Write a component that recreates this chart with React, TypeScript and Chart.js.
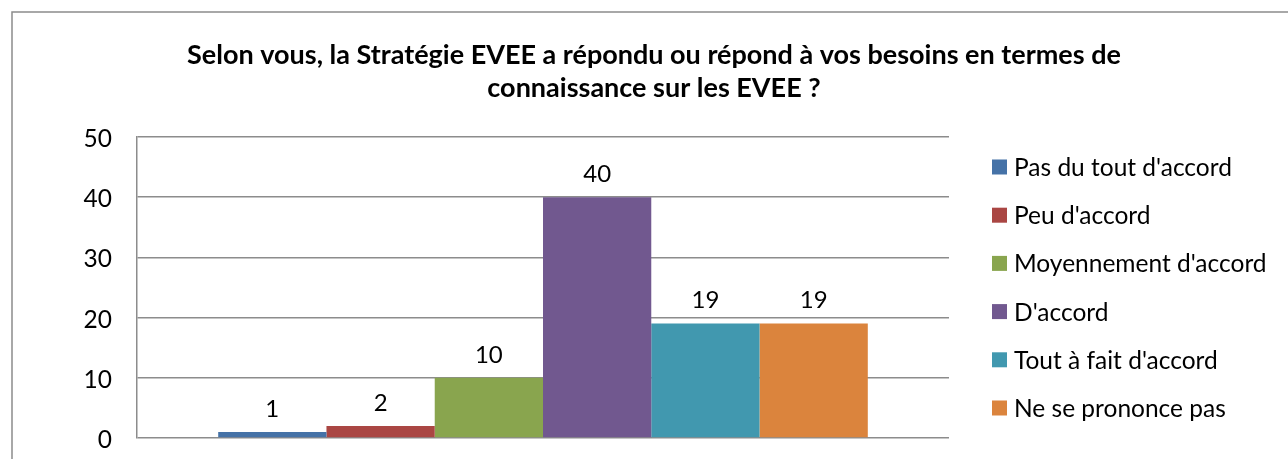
import React, { useEffect, useRef } from "react";
import { Chart, registerables } from "chart.js";

Chart.register(...registerables);

const titleLines = [
  "Selon vous, la Stratégie EVEE a répondu ou répond à vos besoins en termes de",
  "connaissance sur les EVEE ?",
];
const categories = [""];
const seriesNames = [
  "Pas du tout d'accord",
  "Peu d'accord",
  "Moyennement d'accord",
  "D'accord",
  "Tout à fait d'accord",
  "Ne se prononce pas",
];
const seriesValues = [1, 2, 10, 40, 19, 19];
const seriesColors = ["#4572A7", "#AA4643", "#89A54E", "#71588F", "#4198AF", "#DB843D"];
const yTicks = { min: 0, max: 50, step: 10 };

const FONT = "Lato, 'Open Sans', sans-serif";

const framePlugin = {
  id: "frame",
  beforeDraw(chart: any) {
    const ctx = chart.ctx;
    ctx.save();
    ctx.fillStyle = "#ffffff";
    ctx.fillRect(0, 0, chart.width, chart.height);
    ctx.strokeStyle = "#8c8c8c";
    ctx.lineWidth = 1.5;
    ctx.strokeRect(12, 12, 1300, 500);
    ctx.restore();
  },
};

const valueLabelPlugin = {
  id: "valueLabels",
  afterDatasetsDraw(chart: any) {
    const ctx = chart.ctx;
    ctx.save();
    ctx.font = `24px ${FONT}`;
    ctx.fillStyle = "#000";
    ctx.textAlign = "center";
    ctx.textBaseline = "middle";
    chart.data.datasets.forEach((ds: any, i: number) => {
      const meta = chart.getDatasetMeta(i);
      meta.data.forEach((el: any, j: number) => {
        ctx.fillText(String(ds.data[j]), el.x, el.y - 23);
      });
    });
    ctx.restore();
  },
};

const sideLegendPlugin = {
  id: "sideLegend",
  afterDraw(chart: any) {
    const ctx = chart.ctx;
    const area = chart.chartArea;
    const cy = (area.top + area.bottom) / 2;
    const n = chart.data.datasets.length;
    const step = 48.2;
    const x = area.right + 43;
    ctx.save();
    ctx.font = `24.5px ${FONT}`;
    ctx.textAlign = "left";
    ctx.textBaseline = "middle";
    chart.data.datasets.forEach((ds: any, i: number) => {
      const y = cy + (i - (n - 1) / 2) * step;
      ctx.fillStyle = ds.backgroundColor;
      ctx.fillRect(x, y - 7.5, 15, 15);
      ctx.fillStyle = "#000";
      ctx.fillText(ds.label, x + 22, y + 1);
    });
    ctx.restore();
  },
};

export default function App() {
  const ref = useRef<HTMLCanvasElement | null>(null);
  useEffect(() => {
    if (!ref.current) return;
    const chart = new Chart(ref.current, {
      type: "bar",
      data: {
        labels: categories,
        datasets: seriesNames.map((name, i) => ({
          label: name,
          data: [seriesValues[i]],
          backgroundColor: seriesColors[i],
          borderWidth: 0,
          categoryPercentage: 0.8,
          barPercentage: 1,
        })),
      },
      options: {
        responsive: false,
        animation: false,
        layout: { padding: { left: 20, right: 0, top: 10, bottom: 21 } },
        plugins: {
          legend: { display: false },
          tooltip: { enabled: false },
          title: {
            display: true,
            text: titleLines,
            color: "#000",
            font: { family: FONT, size: 27, weight: "bold", lineHeight: 1.222 },
            padding: { top: 28.5, bottom: 32.5 },
          },
        },
        scales: {
          x: {
            display: false,
            grid: { display: false },
          },
          y: {
            min: yTicks.min,
            max: yTicks.max,
            ticks: {
              stepSize: yTicks.step,
              color: "#000",
              font: { family: FONT, size: 24.5 },
              padding: 25,
              labelOffset: 2,
            },
            grid: { color: "#8c8c8c", lineWidth: 1.5, drawTicks: false },
            border: { display: true, color: "#8c8c8c", width: 1.5 },
            afterFit(scale: any) {
              scale.width = 117;
              scale.paddingTop = 0;
              scale.paddingBottom = 0;
            },
          },
          y2: {
            position: "right",
            display: true,
            grid: { display: false },
            border: { display: false },
            ticks: { display: false },
            afterFit(scale: any) {
              scale.width = 339;
            },
          },
        },
      },
      plugins: [framePlugin, valueLabelPlugin, sideLegendPlugin],
    });
    return () => chart.destroy();
  }, []);
  return (
    <div style={{ position: "fixed", left: 0, top: 0, width: 1288, height: 459 }}>
      <canvas ref={ref} width={1288} height={459} />
    </div>
  );
}
